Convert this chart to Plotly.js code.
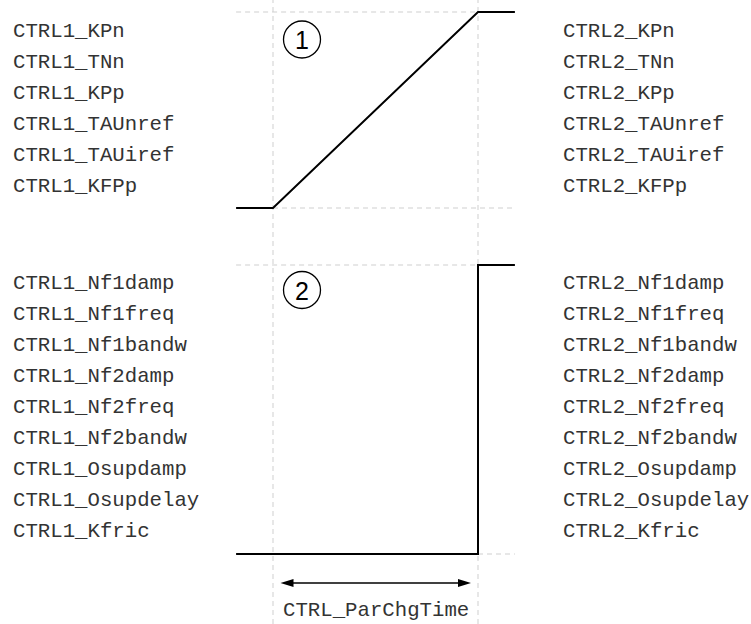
<!DOCTYPE html>
<html>
<head>
<meta charset="utf-8">
<script src="https://cdn.plot.ly/plotly-3.0.1.min.js"></script>
<style>html,body{margin:0;padding:0;background:#fff;}#chart{width:751px;height:624px;}</style>
</head>
<body>
<div id="chart"></div>
<script>
// ---- data (time in units of CTRL_ParChgTime) ----
const rampTime = [-0.18, 0, 1, 1.18];
const rampValue = [0, 0, 1, 1];
const stepTime = [-0.18, 1, 1, 1.18];
const stepValue = [0, 0, 1, 1];

const ctrl1Top = ["CTRL1_KPn", "CTRL1_TNn", "CTRL1_KPp", "CTRL1_TAUnref", "CTRL1_TAUiref", "CTRL1_KFPp"];
const ctrl2Top = ["CTRL2_KPn", "CTRL2_TNn", "CTRL2_KPp", "CTRL2_TAUnref", "CTRL2_TAUiref", "CTRL2_KFPp"];
const ctrl1Bottom = ["CTRL1_Nf1damp", "CTRL1_Nf1freq", "CTRL1_Nf1bandw", "CTRL1_Nf2damp", "CTRL1_Nf2freq", "CTRL1_Nf2bandw", "CTRL1_Osupdamp", "CTRL1_Osupdelay", "CTRL1_Kfric"];
const ctrl2Bottom = ["CTRL2_Nf1damp", "CTRL2_Nf1freq", "CTRL2_Nf1bandw", "CTRL2_Nf2damp", "CTRL2_Nf2freq", "CTRL2_Nf2bandw", "CTRL2_Osupdamp", "CTRL2_Osupdelay", "CTRL2_Kfric"];
const circleLabels = ["1", "2"];
const spanLabel = "CTRL_ParChgTime";

// ---- layout geometry (pixels) ----
const W = 751, H = 624;
const px = x => x / W;
const py = y => 1 - y / H;
const x0px = 273, x1px = 478;            // pixel of t=0 and t=1
const unit = x1px - x0px;
const xRange = [-x0px / unit, (W - x0px) / unit];
const pad = 0.05;
function domainFor(topPx, botPx) {
  const per = botPx - topPx;
  return [py(botPx + pad * per), py(topPx - pad * per)];
}
const topDom = domainFor(12, 208);
const botDom = domainFor(265, 554);

const lineStyle = {color: '#000', width: 2};
const traces = [
  {x: rampTime, y: rampValue, xaxis: 'x', yaxis: 'y', mode: 'lines', line: lineStyle, hoverinfo: 'skip'},
  {x: stepTime, y: stepValue, xaxis: 'x', yaxis: 'y2', mode: 'lines', line: lineStyle, hoverinfo: 'skip'}
];

const dashLine = {color: '#cfcfcf', width: 1, dash: '5px,4px'};
const shapes = [];
// vertical guide lines at start / end of the change time
[rampTime[1], rampTime[2]].forEach(t => shapes.push({type: 'line', xref: 'x', yref: 'paper', x0: t, x1: t, y0: 0, y1: 1, line: dashLine, layer: 'below'}));
// horizontal guides
shapes.push({type: 'line', xref: 'x', yref: 'y', x0: rampTime[0], x1: rampTime[2], y0: 1, y1: 1, line: dashLine, layer: 'below'});
shapes.push({type: 'line', xref: 'x', yref: 'y', x0: rampTime[1], x1: rampTime[3], y0: 0, y1: 0, line: dashLine, layer: 'below'});
shapes.push({type: 'line', xref: 'x', yref: 'y2', x0: stepTime[0], x1: stepTime[1], y0: 1, y1: 1, line: dashLine, layer: 'below'});
shapes.push({type: 'line', xref: 'x', yref: 'y2', x0: stepTime[2], x1: stepTime[3], y0: 0, y1: 0, line: dashLine, layer: 'below'});

// circles with numbers
const circleCenters = [[302, 39.5], [302, 290]];
const r = 18.5;
const annotations = [];
circleCenters.forEach((c, i) => {
  shapes.push({type: 'circle', xref: 'paper', yref: 'paper', x0: px(c[0] - r), x1: px(c[0] + r), y0: py(c[1] + r), y1: py(c[1] - r), line: {color: '#000', width: 1.3}});
  annotations.push({xref: 'paper', yref: 'paper', x: px(c[0]), y: py(c[1] + 1), text: circleLabels[i], showarrow: false, xanchor: 'center', yanchor: 'middle', font: {family: 'Liberation Sans, Arial', size: 25, color: '#000'}});
});

// arrow for the change time
const ay = 583, aL = 280.5, aR = 471, headL = 13, headW = 4;
shapes.push({type: 'line', xref: 'paper', yref: 'paper', x0: px(aL + 4), x1: px(aR - 4), y0: py(ay), y1: py(ay), line: {color: '#000', width: 1.5}});
shapes.push({type: 'path', xref: 'paper', yref: 'paper', fillcolor: '#000', line: {width: 0},
  path: `M${px(aL)},${py(ay)} L${px(aL + headL)},${py(ay - headW)} L${px(aL + headL)},${py(ay + headW)} Z`});
shapes.push({type: 'path', xref: 'paper', yref: 'paper', fillcolor: '#000', line: {width: 0},
  path: `M${px(aR)},${py(ay)} L${px(aR - headL)},${py(ay - headW)} L${px(aR - headL)},${py(ay + headW)} Z`});

// text labels
const monoFont = {family: '"Liberation Mono", "Courier New", monospace', size: 20.7, color: '#333'};
function addColumn(list, xPx, yStart, step) {
  list.forEach((s, i) => annotations.push({xref: 'paper', yref: 'paper', x: px(xPx - 2), y: py(yStart + step * i), text: s, showarrow: false, xanchor: 'left', yanchor: 'middle', font: monoFont}));
}
addColumn(ctrl1Top, 13, 31.5, 31.04);
addColumn(ctrl2Top, 563, 31.5, 31.04);
addColumn(ctrl1Bottom, 13, 283.5, 31.0);
addColumn(ctrl2Bottom, 563, 283.5, 31.0);
annotations.push({xref: 'paper', yref: 'paper', x: px(375.5), y: py(610), text: spanLabel, showarrow: false, xanchor: 'center', yanchor: 'middle', font: monoFont});

const axisOff = {visible: false, showgrid: false, zeroline: false, fixedrange: true};
const layout = {
  width: W, height: H,
  margin: {l: 0, r: 0, t: 0, b: 0, pad: 0},
  paper_bgcolor: '#fff', plot_bgcolor: 'rgba(0,0,0,0)',
  showlegend: false,
  xaxis: Object.assign({}, axisOff, {range: xRange, domain: [0, 1]}),
  yaxis: Object.assign({}, axisOff, {range: [-pad, 1 + pad], domain: topDom, anchor: 'x'}),
  yaxis2: Object.assign({}, axisOff, {range: [-pad, 1 + pad], domain: botDom, anchor: 'x'}),
  shapes: shapes,
  annotations: annotations
};
Plotly.newPlot('chart', traces, layout, {staticPlot: true, displayModeBar: false});
</script>
</body>
</html>
